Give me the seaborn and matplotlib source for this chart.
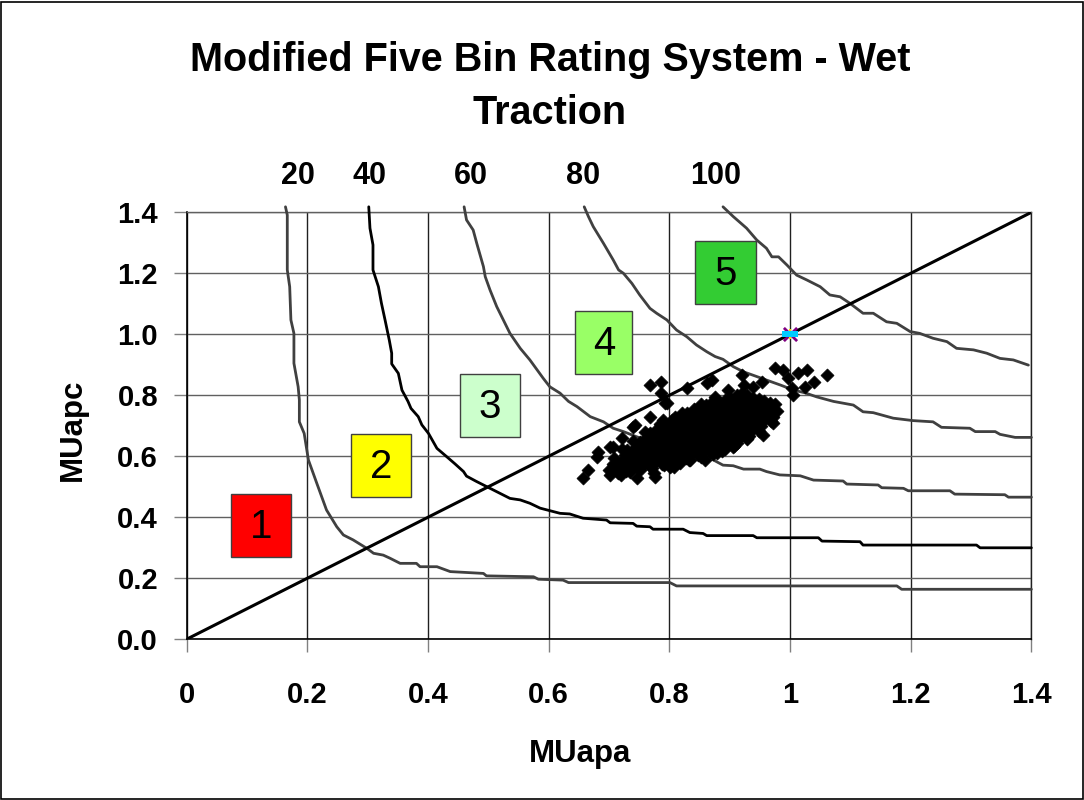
import matplotlib
matplotlib.use("Agg")
import matplotlib.pyplot as plt
from matplotlib.patches import Rectangle
from matplotlib.path import Path
import seaborn as sns

# ---------------- data ----------------
title_line1 = "Modified Five Bin Rating System - Wet"
title_line2 = "Traction"
x_label = "MUapa"
y_label = "MUapc"

x_ticks = [0, 0.2, 0.4, 0.6, 0.8, 1.0, 1.2, 1.4]
x_tick_labels = ["0", "0.2", "0.4", "0.6", "0.8", "1", "1.2", "1.4"]
y_ticks = [0, 0.2, 0.4, 0.6, 0.8, 1.0, 1.2, 1.4]
y_tick_labels = ["0.0", "0.2", "0.4", "0.6", "0.8", "1.0", "1.2", "1.4"]

contour_labels = ["20", "40", "60", "80", "100"]
contour_label_x = [0.185, 0.304, 0.471, 0.657, 0.876]

c20_x = [0.164, 0.167, 0.167, 0.171, 0.173, 0.178, 0.178, 0.185, 0.187, 0.187, 0.195, 0.202, 0.216, 0.232,
         0.249, 0.260, 0.276, 0.299, 0.310, 0.326, 0.337, 0.354, 0.381, 0.387, 0.415, 0.437, 0.492, 0.497,
         0.575, 0.583, 0.624, 0.633, 0.801, 0.812, 1.177, 1.185, 1.400]
c20_y = [1.418, 1.391, 1.211, 1.156, 1.047, 1.003, 0.905, 0.828, 0.785, 0.713, 0.675, 0.588, 0.511, 0.424,
         0.369, 0.342, 0.326, 0.298, 0.282, 0.276, 0.266, 0.249, 0.249, 0.238, 0.238, 0.222, 0.216, 0.208,
         0.205, 0.197, 0.194, 0.186, 0.186, 0.175, 0.175, 0.164, 0.164]

c40_x = [0.302, 0.304, 0.309, 0.309, 0.318, 0.323, 0.329, 0.336, 0.340, 0.340, 0.351, 0.357, 0.367, 0.372,
         0.384, 0.390, 0.401, 0.415, 0.431, 0.445, 0.459, 0.464, 0.480, 0.492, 0.519, 0.536, 0.553, 0.569,
         0.586, 0.619, 0.635, 0.657, 0.696, 0.702, 0.740, 0.746, 0.768, 0.773, 0.823, 0.834, 0.856, 0.862,
         0.939, 0.945, 1.047, 1.053, 1.116, 1.121, 1.309, 1.315, 1.400]
c40_y = [1.418, 1.348, 1.293, 1.211, 1.156, 1.102, 1.047, 0.981, 0.938, 0.903, 0.872, 0.817, 0.780, 0.757,
         0.730, 0.703, 0.675, 0.626, 0.599, 0.575, 0.550, 0.535, 0.518, 0.506, 0.479, 0.462, 0.457, 0.446,
         0.430, 0.413, 0.411, 0.397, 0.391, 0.382, 0.380, 0.371, 0.369, 0.361, 0.361, 0.350, 0.347, 0.340,
         0.340, 0.333, 0.333, 0.322, 0.320, 0.309, 0.309, 0.300, 0.300]

c60_x = [0.460, 0.464, 0.475, 0.481, 0.492, 0.495, 0.503, 0.514, 0.525, 0.536, 0.553, 0.569, 0.591, 0.602,
         0.619, 0.633, 0.647, 0.669, 0.691, 0.707, 0.724, 0.746, 0.775, 0.800, 0.830, 0.856, 0.873, 0.889,
         0.906, 0.923, 0.950, 0.961, 0.983, 1.017, 1.039, 1.088, 1.094, 1.146, 1.152, 1.188, 1.196, 1.265,
         1.273, 1.356, 1.362, 1.400]
c60_y = [1.418, 1.375, 1.342, 1.298, 1.222, 1.189, 1.145, 1.091, 1.047, 1.003, 0.954, 0.916, 0.856, 0.828,
         0.807, 0.780, 0.763, 0.730, 0.713, 0.692, 0.681, 0.664, 0.645, 0.630, 0.612, 0.599, 0.588, 0.571,
         0.569, 0.558, 0.558, 0.550, 0.539, 0.536, 0.522, 0.519, 0.509, 0.506, 0.497, 0.495, 0.487, 0.487,
         0.476, 0.474, 0.466, 0.466]

c80_x = [0.659, 0.666, 0.674, 0.691, 0.707, 0.716, 0.724, 0.738, 0.751, 0.768, 0.779, 0.796, 0.812, 0.829,
         0.845, 0.862, 0.876, 0.889, 0.906, 0.923, 0.940, 0.961, 0.985, 1.006, 1.025, 1.044, 1.072, 1.105,
         1.121, 1.138, 1.171, 1.204, 1.237, 1.251, 1.298, 1.307, 1.340, 1.348, 1.373, 1.400]
c80_y = [1.418, 1.386, 1.353, 1.298, 1.244, 1.211, 1.200, 1.167, 1.129, 1.085, 1.069, 1.047, 1.014, 0.992,
         0.965, 0.943, 0.927, 0.918, 0.894, 0.877, 0.865, 0.850, 0.833, 0.817, 0.808, 0.795, 0.780, 0.768,
         0.746, 0.743, 0.725, 0.717, 0.713, 0.695, 0.692, 0.681, 0.681, 0.672, 0.662, 0.662]

c100_x = [0.889, 0.906, 0.928, 0.945, 0.961, 0.970, 0.981, 0.995, 1.011, 1.028, 1.050, 1.066, 1.083, 1.099,
          1.121, 1.138, 1.160, 1.177, 1.199, 1.215, 1.237, 1.260, 1.276, 1.304, 1.326, 1.348, 1.370, 1.395]
c100_y = [1.418, 1.386, 1.348, 1.309, 1.282, 1.254, 1.254, 1.227, 1.194, 1.178, 1.156, 1.129, 1.123, 1.102,
          1.069, 1.069, 1.041, 1.036, 1.009, 1.003, 0.987, 0.976, 0.954, 0.949, 0.938, 0.921, 0.916, 0.899]

diag_x = [0.0, 1.4]
diag_y = [0.0, 1.4]

ref_x = [1.0]
ref_y = [1.0]

cloud_x = [
    0.700, 0.706, 0.712, 0.709, 0.715,
    0.720, 0.724, 0.722, 0.726, 0.721,
    0.735, 0.738, 0.742, 0.736, 0.744, 0.740,
    0.752, 0.758, 0.755, 0.762, 0.757, 0.763, 0.760,
    0.772, 0.778, 0.775, 0.781, 0.776, 0.783, 0.779, 0.785,
    0.792, 0.798, 0.795, 0.801, 0.797, 0.803, 0.799, 0.805,
    0.812, 0.818, 0.815, 0.821, 0.817, 0.823, 0.819, 0.825, 0.821,
    0.832, 0.838, 0.835, 0.841, 0.837, 0.843, 0.839, 0.845, 0.841,
    0.852, 0.858, 0.855, 0.861, 0.857, 0.863, 0.859, 0.865, 0.861,
    0.872, 0.878, 0.875, 0.881, 0.877, 0.883, 0.879, 0.885, 0.881, 0.876,
    0.892, 0.898, 0.895, 0.901, 0.897, 0.903, 0.899, 0.905, 0.901,
    0.912, 0.918, 0.915, 0.921, 0.917, 0.923, 0.919, 0.925, 0.921,
    0.932, 0.938, 0.935, 0.941, 0.937, 0.943, 0.939,
    0.952, 0.958, 0.955, 0.961, 0.957,
    0.972, 0.978, 0.975,
    0.729, 0.731, 0.733, 0.730,
    0.748, 0.746, 0.750, 0.747, 0.751,
    0.768, 0.766, 0.770, 0.767, 0.771, 0.768,
    0.788, 0.786, 0.790, 0.787, 0.791, 0.788, 0.792,
    0.808, 0.806, 0.810, 0.807, 0.811, 0.808, 0.812, 0.809,
    0.828, 0.826, 0.830, 0.827, 0.831, 0.828, 0.832, 0.829,
    0.848, 0.846, 0.850, 0.847, 0.851, 0.848, 0.852, 0.849, 0.853,
    0.868, 0.866, 0.870, 0.867, 0.871, 0.868, 0.872, 0.869, 0.873,
    0.888, 0.886, 0.890, 0.887, 0.891, 0.888, 0.892, 0.889, 0.893,
    0.908, 0.906, 0.910, 0.907, 0.911, 0.908, 0.912, 0.909, 0.913,
    0.928, 0.926, 0.930, 0.927, 0.931, 0.928, 0.932, 0.929,
    0.948, 0.946, 0.950, 0.947, 0.951, 0.948,
    0.968, 0.966, 0.970, 0.967,
    0.657, 0.666, 0.680, 0.682, 0.702, 0.707, 0.721, 0.740, 0.743, 0.768, 0.787, 0.787, 0.768,
    0.790, 0.793, 0.796, 0.829, 0.862, 0.870, 0.898, 0.923, 0.939, 0.953, 0.920, 0.975, 0.989,
    0.997, 1.014, 1.028, 1.039, 1.061, 1.003, 1.005, 1.025, 0.967, 0.972, 0.956, 0.928, 0.906,
    0.879, 0.859, 0.834, 0.818, 0.801, 0.774, 0.746, 0.718, 0.702, 0.776, 0.807,
]
cloud_y = [
    0.555, 0.575, 0.560, 0.595, 0.545,
    0.540, 0.565, 0.585, 0.605, 0.625,
    0.548, 0.570, 0.590, 0.612, 0.632, 0.650,
    0.555, 0.575, 0.598, 0.618, 0.640, 0.662, 0.680,
    0.562, 0.583, 0.605, 0.626, 0.648, 0.668, 0.690, 0.705,
    0.570, 0.592, 0.613, 0.634, 0.655, 0.676, 0.698, 0.718,
    0.578, 0.600, 0.622, 0.642, 0.663, 0.684, 0.705, 0.726, 0.742,
    0.588, 0.610, 0.631, 0.652, 0.673, 0.694, 0.715, 0.736, 0.756,
    0.598, 0.620, 0.641, 0.662, 0.683, 0.704, 0.725, 0.746, 0.768,
    0.608, 0.630, 0.651, 0.672, 0.693, 0.714, 0.735, 0.756, 0.778, 0.795,
    0.625, 0.646, 0.667, 0.688, 0.709, 0.730, 0.751, 0.772, 0.792,
    0.645, 0.666, 0.687, 0.708, 0.729, 0.750, 0.771, 0.790, 0.806,
    0.668, 0.689, 0.710, 0.731, 0.752, 0.773, 0.792,
    0.700, 0.721, 0.742, 0.763, 0.782,
    0.728, 0.750, 0.770,
    0.553, 0.577, 0.598, 0.620,
    0.562, 0.583, 0.604, 0.626, 0.646,
    0.568, 0.590, 0.612, 0.634, 0.656, 0.676,
    0.576, 0.598, 0.619, 0.641, 0.662, 0.683, 0.702,
    0.584, 0.606, 0.628, 0.649, 0.670, 0.691, 0.712, 0.730,
    0.594, 0.616, 0.638, 0.659, 0.680, 0.700, 0.721, 0.742,
    0.604, 0.626, 0.647, 0.668, 0.689, 0.710, 0.731, 0.752, 0.770,
    0.614, 0.636, 0.657, 0.678, 0.699, 0.720, 0.741, 0.762, 0.782,
    0.618, 0.640, 0.661, 0.682, 0.703, 0.724, 0.745, 0.766, 0.786,
    0.635, 0.656, 0.677, 0.698, 0.719, 0.740, 0.761, 0.782, 0.800,
    0.657, 0.678, 0.699, 0.720, 0.741, 0.762, 0.783, 0.800,
    0.684, 0.705, 0.726, 0.747, 0.768, 0.787,
    0.715, 0.736, 0.757, 0.776,
    0.528, 0.555, 0.599, 0.615, 0.632, 0.632, 0.659, 0.697, 0.703, 0.834, 0.845, 0.807, 0.730,
    0.719, 0.774, 0.774, 0.823, 0.839, 0.850, 0.817, 0.834, 0.828, 0.845, 0.867, 0.889, 0.883,
    0.856, 0.872, 0.883, 0.845, 0.867, 0.823, 0.801, 0.828, 0.768, 0.708, 0.670, 0.659, 0.632,
    0.610, 0.588, 0.588, 0.577, 0.566, 0.544, 0.528, 0.544, 0.539, 0.533, 0.566,
]

bin_labels = ["1", "2", "3", "4", "5"]
bin_colors = ["#FF0000", "#FFFF00", "#CCFFCC", "#99FF66", "#33CC33"]

# ---------------- styling ----------------
sns.set_theme(style="white")
plt.rcParams["font.family"] = ["Liberation Sans", "DejaVu Sans"]
plt.rcParams["text.color"] = "black"
plt.rcParams["axes.labelcolor"] = "black"
plt.rcParams["xtick.color"] = "black"
plt.rcParams["ytick.color"] = "black"

W, H = 1084, 800
fig = plt.figure(figsize=(W / 100, H / 100), dpi=100)
left_px, right_px, top_px, bottom_px = 186.5, 1031.4, 212.3, 639.3
ax = fig.add_axes([left_px / W, (H - bottom_px) / H, (right_px - left_px) / W, (bottom_px - top_px) / H])

ax.set_xlim(0, 1.4)
ax.set_ylim(0, 1.4)

# grid
ax.set_axisbelow(True)
ax.xaxis.grid(True, color="#202020", lw=1.0)
ax.yaxis.grid(True, color="#606060", lw=1.0)

for s in ["left", "bottom"]:
    ax.spines[s].set_color("black")
    ax.spines[s].set_linewidth(1.2)
ax.spines["top"].set_color("#606060")
ax.spines["right"].set_color("#202020")
ax.spines["top"].set_linewidth(1.0)
ax.spines["right"].set_linewidth(1.0)

# bin boxes
box_ll = [(0.073, 0.269), (0.272, 0.466), (0.453, 0.662), (0.644, 0.870), (0.843, 1.098)]
box_w = [0.100, 0.100, 0.100, 0.095, 0.100]
box_h = 0.207
for (bx, by), bw, lab, col in zip(box_ll, box_w, bin_labels, bin_colors):
    ax.add_patch(Rectangle((bx, by), bw, box_h, facecolor=col, edgecolor="#404040", lw=1.0, zorder=2))
    ax.text(bx + bw / 2, by + box_h / 2 - 0.005, lab, ha="center", va="center", fontsize=29,
            color="black", zorder=3)

# iso-rating curves
curve_sets = [(c20_x, c20_y, "#404040"), (c40_x, c40_y, "black"), (c60_x, c60_y, "#404040"),
              (c80_x, c80_y, "#404040"), (c100_x, c100_y, "#404040")]
for cx, cy, col in curve_sets:
    sns.lineplot(x=cx, y=cy, sort=False, estimator=None, color=col, lw=2.0, ax=ax,
                 clip_on=False, zorder=4)

# diagonal
sns.lineplot(x=diag_x, y=diag_y, sort=False, estimator=None, color="black", lw=2.2, ax=ax, zorder=5)

# data cloud
sns.scatterplot(x=cloud_x, y=cloud_y, marker="D", s=44, color="black", edgecolor="black",
                linewidth=0.5, ax=ax, zorder=6)

# reference point at (1,1)
rect_marker = Path([(-1, -0.4), (1, -0.4), (1, 0.4), (-1, 0.4), (-1, -0.4)],
                   [Path.MOVETO, Path.LINETO, Path.LINETO, Path.LINETO, Path.CLOSEPOLY])
sns.scatterplot(x=ref_x, y=ref_y, marker="x", s=90, color="#800080", linewidth=2.0, ax=ax, zorder=7)
sns.scatterplot(x=ref_x, y=ref_y, marker="+", s=60, color="#FFD700", linewidth=1.5, ax=ax, zorder=7)
sns.scatterplot(x=ref_x, y=ref_y, marker=rect_marker, s=140, color="#00CCFF", linewidth=0, ax=ax, zorder=8)

# ticks
ax.set_xticks(x_ticks)
ax.set_xticklabels(x_tick_labels, fontsize=21, fontweight="bold", color="black")
ax.set_yticks(y_ticks)
ax.set_yticklabels(y_tick_labels, fontsize=21, fontweight="bold", color="black")
ax.tick_params(axis="x", direction="out", length=9, width=1, color="#808080", pad=21, bottom=True)
ax.tick_params(axis="y", direction="out", length=9.5, width=1, color="#808080", pad=11, left=True)
ax.set_xlabel("")
ax.set_ylabel("")

# contour labels above plot
for lab, lx in zip(contour_labels, contour_label_x):
    ax.text(lx, 1.519, lab, ha="center", va="center", fontsize=22, fontweight="bold",
            color="black", clip_on=False)

# titles and axis labels
fig.text(550 / W, 1 - 60 / H, title_line1, ha="center", va="center", fontsize=28.5,
         fontweight="bold", color="black")
fig.text(550 / W, 1 - 113 / H, title_line2, ha="center", va="center", fontsize=28.5,
         fontweight="bold", color="black")
fig.text(73 / W, 1 - 430 / H, y_label, ha="center", va="center", rotation=90, fontsize=22.5,
         fontweight="bold", color="black")
fig.text(580 / W, 1 - 754 / H, x_label, ha="center", va="center", fontsize=22.5,
         fontweight="bold", color="black")

# figure border
fig.add_artist(Rectangle((0.001, 0.001), 0.998, 0.997, transform=fig.transFigure, fill=False,
                         lw=1.2, edgecolor="black"))

fig.savefig("out.png", dpi=100)
